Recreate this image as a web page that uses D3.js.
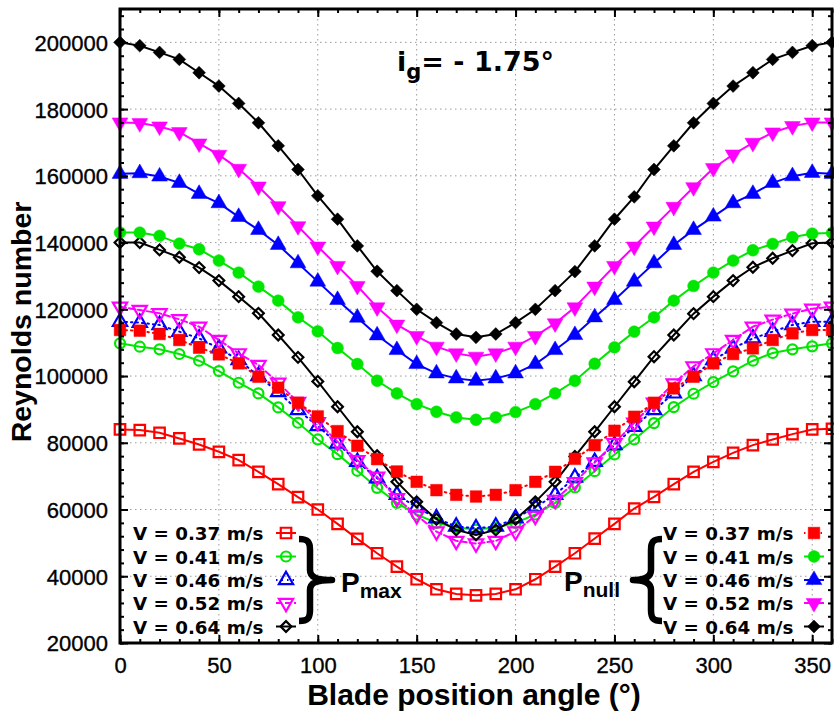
<!DOCTYPE html>
<html><head><meta charset="utf-8">
<script src="https://cdn.jsdelivr.net/npm/d3@7/dist/d3.min.js"></script>
<style>body{margin:0;background:#fff}svg{display:block}</style>
</head><body>
<svg id="c" width="834" height="713"></svg>
<script>
// ---------- data ----------
const angles = [0,10,20,30,40,50,60,70,80,90,100,110,120,130,140,150,160,170,180,190,200,210,220,230,240,250,260,270,280,290,300,310,320,330,340,350,360];

// P_max (open markers)
const maxV037 = [84000,83800,83000,81300,79500,77300,74800,71300,67600,63700,60000,55700,51200,46900,42900,39100,36100,34700,34300,34700,36100,39100,42900,46900,51300,55700,60300,63800,67600,71300,74300,77000,79300,81000,82600,84000,84200];
const maxV041 = [109800,108800,108000,106600,104600,101500,98000,94800,90600,86000,81000,76600,71600,66500,62000,58500,56000,54600,54000,54600,56000,58500,62000,66600,71500,76500,81000,85900,90700,94700,98200,101400,104600,106900,108000,108900,109800];
const maxV046 = [116300,116000,115300,113300,111300,108300,104800,100000,95200,89800,85000,79800,74300,69400,64400,60700,57400,54900,54400,54900,57400,60700,64400,69600,74300,79300,84800,89800,94800,100000,104800,108300,111300,113300,115300,116300,116300];
const maxV052 = [120800,119800,118800,117000,114800,110800,106800,103300,98000,92200,86200,80300,74800,69800,63400,58300,53400,50600,49800,50600,53400,58100,62900,68200,74100,79900,86000,92000,97800,102900,106800,110800,114800,116900,118700,120200,120800];
const maxV064 = [140000,140000,137800,135600,132500,128600,123800,118800,112300,105600,98400,90800,83300,76100,68300,62300,57100,53900,52400,53900,57100,62300,68300,75900,83300,90800,98300,105800,112300,118700,123800,128600,132600,135300,137600,139800,140000];

// P_null (filled markers)
const nullV037 = [113800,113600,112600,110800,108500,106500,103800,99800,96500,92000,87900,83500,79100,75100,71400,68300,65800,64400,63900,64400,65800,68300,71300,75200,79300,83600,87800,92000,96300,99800,103800,106600,108300,110800,112800,113800,113800];
const nullV041 = [143000,143000,142000,139700,138000,134600,131000,126800,122600,117600,113400,108400,103600,98600,94800,91600,89300,87600,86900,87600,89200,91600,94800,98600,103700,108600,113300,117600,122600,127000,131000,134600,137700,139600,141600,142700,142900];
const nullV046 = [160600,160800,159800,157900,154600,151800,147700,143800,139300,133800,128300,122800,117500,112200,107800,103600,100800,99300,98600,99300,100800,103600,107800,112300,117600,122800,128300,133800,139300,143800,147800,151800,154600,157900,159900,160900,160600];
const nullV052 = [176000,175800,174800,173100,169700,166300,162100,156800,150900,144900,138800,133000,127000,120600,115400,112000,108800,106800,105800,106800,108800,112000,115800,120600,126800,133000,138800,144800,150700,156600,162300,166400,169900,173000,174900,176000,176000];
const nullV064 = [200000,199000,197000,194900,190900,186900,181700,175900,169000,161900,154000,147000,139000,131400,125600,120000,116000,112600,111600,112600,116000,120000,125600,131300,139000,147000,153700,161900,169000,175900,181700,186900,190900,194900,197000,199000,200000];

const legendLabels = ["V = 0.37 m/s","V = 0.41 m/s","V = 0.46 m/s","V = 0.52 m/s","V = 0.64 m/s"];
const xTicks = [0,50,100,150,200,250,300,350];
const xMinor = angles;
const yTicks = [20000,40000,60000,80000,100000,120000,140000,160000,180000,200000];
const yMinor = d3.range(20000, 210001, 4000);
const titleMain = "i", titleSub = "g", titleRest = "= - 1.75°";

// ---------- styles ----------
const colors = ["#ff0000","#00e600","#0000ff","#ff00ff","#000000"];
const symTypes = ["square","circle","triUp","triDown","diamond"];
const maxDash = [null,null,"1.5,4","6,3",null];
const nullDash = ["1.5,4",null,null,null,null];

const maxSeries = [maxV037,maxV041,maxV046,maxV052,maxV064].map((v,i)=>({values:v,color:colors[i],sym:symTypes[i],filled:false,dash:maxDash[i]}));
const nullSeries = [nullV037,nullV041,nullV046,nullV052,nullV064].map((v,i)=>({values:v,color:colors[i],sym:symTypes[i],filled:true,dash:nullDash[i]}));

// ---------- layout ----------
const svg = d3.select("#c");
const M = {l:120, r:832, t:9, b:643};
const x = d3.scaleLinear().domain([0,360]).range([M.l, M.r]);
const y = d3.scaleLinear().domain([20000,210000]).range([M.b, M.t]);

svg.append("rect").attr("width",834).attr("height",713).attr("fill","#fff");

// grid
const g = svg.append("g");
g.selectAll("line.gx").data(xTicks.filter(d=>d>0)).join("line")
  .attr("x1",d=>x(d)).attr("x2",d=>x(d)).attr("y1",M.t).attr("y2",M.b)
  .attr("stroke","#9a9a9a").attr("stroke-width",1).attr("stroke-dasharray","1.5,3.5");
g.selectAll("line.gy").data(yTicks.filter(d=>d>20000)).join("line")
  .attr("x1",M.l).attr("x2",M.r).attr("y1",d=>y(d)).attr("y2",d=>y(d))
  .attr("stroke","#9a9a9a").attr("stroke-width",1).attr("stroke-dasharray","1.5,3.5");

// symbol helper
function symPath(type, size){
  if(type==="square") return d3.symbol(d3.symbolSquare, size)();
  if(type==="circle") return d3.symbol(d3.symbolCircle, size)();
  if(type==="triUp" || type==="triDown") return d3.symbol(d3.symbolTriangle, size)();
  if(type==="diamond") return d3.symbol(d3.symbolSquare, size)();
}
function symRot(type){ return type==="triDown"?180:(type==="diamond"?45:0); }
function symSize(type, filled){
  const s = {square:[110,135], circle:[78,110], triUp:[88,108], triDown:[88,108], diamond:[58,82]}[type];
  return filled?s[1]:s[0];
}
function drawMarker(sel, s){
  sel.attr("d", symPath(s.sym, symSize(s.sym,s.filled)))
    .attr("fill", s.filled ? s.color : "#fff")
    .attr("fill-opacity", s.filled ? 1 : 0)
    .attr("stroke", s.color)
    .attr("stroke-width", s.filled ? 0.5 : 2.2);
}

const line = d3.line().x((d,i)=>x(angles[i])).y(d=>y(d));

function drawSeries(s){
  const gg = svg.append("g");
  gg.append("path").attr("d", line(s.values)).attr("fill","none")
    .attr("stroke", s.color).attr("stroke-width", 2)
    .attr("stroke-dasharray", s.dash).attr("stroke-linecap", s.dash?"round":"butt");
  gg.selectAll("path.m").data(s.values).join("path").attr("class","m")
    .call(drawMarker, s)
    .attr("transform",(d,i)=>`translate(${x(angles[i])},${y(d)}) rotate(${symRot(s.sym)})`);
}
maxSeries.forEach(drawSeries);
nullSeries.forEach(drawSeries);

// axes
const tickFont = "'Liberation Sans', Arial, sans-serif";
function styleAxis(a){ a.select(".domain").remove(); a.selectAll("line").attr("stroke","#000").attr("stroke-width",2); }

const xb = svg.append("g").attr("transform",`translate(0,${M.b})`)
  .call(d3.axisBottom(x).tickValues(xTicks).tickSize(-8).tickFormat(d3.format("d")));
styleAxis(xb);
xb.selectAll("text").attr("y",30).attr("dy",0).attr("font-family",tickFont).attr("font-size",22).attr("fill","#000")
  .attr("stroke","#000").attr("stroke-width",0.35);
const xbm = svg.append("g").attr("transform",`translate(0,${M.b})`)
  .call(d3.axisBottom(x).tickValues(xMinor).tickSize(-4).tickFormat(""));
styleAxis(xbm);
const xt = svg.append("g").attr("transform",`translate(0,${M.t})`)
  .call(d3.axisTop(x).tickValues(xTicks).tickSize(-8).tickFormat(""));
styleAxis(xt);
const xtm = svg.append("g").attr("transform",`translate(0,${M.t})`)
  .call(d3.axisTop(x).tickValues(xMinor).tickSize(-4).tickFormat(""));
styleAxis(xtm);

const yl = svg.append("g").attr("transform",`translate(${M.l},0)`)
  .call(d3.axisLeft(y).tickValues(yTicks).tickSize(-8).tickPadding(12).tickFormat(d3.format("d")));
styleAxis(yl);
yl.selectAll("text").attr("font-family",tickFont).attr("font-size",22).attr("fill","#000").attr("dy","0.36em")
  .attr("stroke","#000").attr("stroke-width",0.35);
const ylm = svg.append("g").attr("transform",`translate(${M.l},0)`)
  .call(d3.axisLeft(y).tickValues(yMinor).tickSize(-4).tickFormat(""));
styleAxis(ylm);
const yr = svg.append("g").attr("transform",`translate(${M.r},0)`)
  .call(d3.axisRight(y).tickValues(yTicks).tickSize(-8).tickFormat(""));
styleAxis(yr);
const yrm = svg.append("g").attr("transform",`translate(${M.r},0)`)
  .call(d3.axisRight(y).tickValues(yMinor).tickSize(-4).tickFormat(""));
styleAxis(yrm);

// frame
svg.append("rect").attr("x",M.l).attr("y",M.t).attr("width",M.r-M.l).attr("height",M.b-M.t)
  .attr("fill","none").attr("stroke","#000").attr("stroke-width",3);

// axis titles
const boldFont = "'Liberation Sans', Arial, sans-serif";
svg.append("text").attr("x",474).attr("y",705).attr("text-anchor","middle")
  .attr("font-family",boldFont).attr("font-weight","bold").attr("font-size",30).text("Blade position angle (°)");
svg.append("text").attr("transform","translate(31,322) rotate(-90)").attr("text-anchor","middle")
  .attr("font-family",boldFont).attr("font-weight","bold").attr("font-size",28.5).text("Reynolds number");

// title
const dv = "'DejaVu Sans', Verdana, sans-serif";
const tt = svg.append("text").attr("x",397).attr("y",71).attr("font-family",dv).attr("font-weight","bold").attr("font-size",27);
tt.append("tspan").text(titleMain);
tt.append("tspan").attr("font-size",21).attr("dy",8).text(titleSub);
tt.append("tspan").attr("dy",-8).text(titleRest);

// legends
const rowY = [533,556.5,580,603,626.5];
function legend(series, textX, markX){
  series.forEach((s,i)=>{
    svg.append("text").attr("x",textX).attr("y",rowY[i]+7).attr("font-family",dv).attr("font-weight","bold")
      .attr("font-size",18.3).attr("fill","#000").text(legendLabels[i]);
    svg.append("line").attr("x1",markX-10).attr("x2",markX+10).attr("y1",rowY[i]).attr("y2",rowY[i])
      .attr("stroke",s.color).attr("stroke-width",2).attr("stroke-dasharray",s.dash);
    svg.append("path").call(drawMarker,s).attr("transform",`translate(${markX},${rowY[i]}) rotate(${symRot(s.sym)})`);
  });
}
legend(maxSeries, 133, 286);
legend(nullSeries, 663, 814);

// braces
function bracePath(x0, tipX, y0, y1){
  const d = tipX > x0 ? 1 : -1;
  const ym = (y0+y1)/2, xm = x0 + d*11;
  return `M${x0},${y0+1} C${x0+d*9},${y0+1} ${xm},${y0+4} ${xm},${y0+12} L${xm},${ym-10} C${xm},${ym-3} ${xm+d*6},${ym} ${tipX},${ym}`
   + ` C${xm+d*6},${ym} ${xm},${ym+3} ${xm},${ym+10} L${xm},${y1-12} C${xm},${y1-4} ${x0+d*9},${y1-1} ${x0},${y1-1}`;
}
svg.append("path").attr("d",bracePath(299,332,538,622)).attr("fill","none").attr("stroke","#000").attr("stroke-width",6.5).attr("stroke-linejoin","round");
svg.append("path").attr("d",bracePath(662,633,538,622)).attr("fill","none").attr("stroke","#000").attr("stroke-width",6.5).attr("stroke-linejoin","round");

// P labels
const pm = svg.append("text").attr("x",341).attr("y",592).attr("font-family",boldFont).attr("font-weight","bold").attr("font-size",28);
pm.append("tspan").text("P");
pm.append("tspan").attr("font-size",21).attr("dy",6).text("max");
const pn = svg.append("text").attr("x",564).attr("y",591).attr("font-family",boldFont).attr("font-weight","bold").attr("font-size",28);
pn.append("tspan").text("P");
pn.append("tspan").attr("font-size",21).attr("dy",6).text("null");
</script>
</body></html>
